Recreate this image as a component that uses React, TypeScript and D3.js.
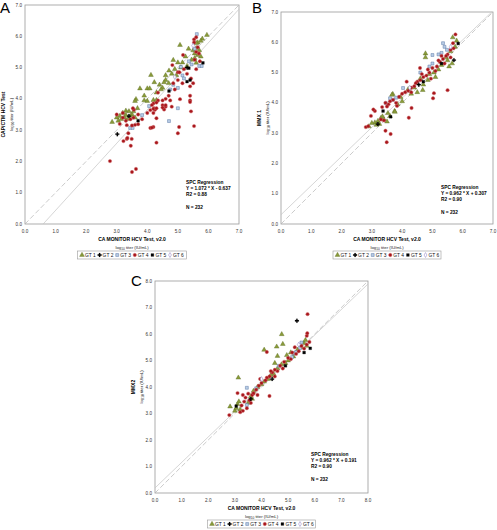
import React from 'react';
import * as d3 from 'd3';

type Pt = [number, number];

const gtLabels = ['GT 1', 'GT 2', 'GT 3', 'GT 4', 'GT 5', 'GT 6'];

// Panel A: CA MONITOR vs CAP/CTM
const aGT1: Pt[] = [[5.95,6.04],[5.8,5.92],[5.75,5.85],[5.65,5.8],[5.6,5.78],[5.07,5.72],[5.6,5.62],[5.7,5.55],[5.5,5.55],[5.55,5.45],[5.65,5.4],[5.75,5.35],[5.35,5.6],[5.55,5.3],[5.45,5.25],[5.25,5.35],[5.6,5.15],[4.85,5.24],[5.0,5.16],[5.15,5.16],[5.3,5.05],[5.1,5.0],[4.71,4.9],[4.9,4.95],[4.8,4.8],[4.95,4.75],[4.6,4.75],[4.6,4.6],[4.12,4.76],[4.23,4.53],[4.55,4.53],[4.4,4.45],[4.7,4.5],[4.5,4.35],[4.0,4.33],[4.08,4.33],[3.76,4.33],[4.45,4.3],[4.3,4.2],[3.9,4.1],[3.63,3.99],[3.9,3.95],[4.0,3.93],[4.2,3.96],[4.3,3.96],[3.6,3.93],[3.68,3.7],[3.3,3.62],[3.2,3.55],[3.4,3.6],[3.5,3.5],[3.1,3.45],[3.25,3.4],[3.35,3.35],[3.0,3.4],[2.85,3.26],[3.05,3.3],[3.45,3.45],[3.6,3.4],[3.15,3.35],[3.55,3.6],[3.3,3.48]];
const aGT2: Pt[] = [[3.02,2.87],[3.4,3.45],[5.3,5.0]];
const aGT3: Pt[] = [[5.62,6.07],[5.36,5.2],[5.45,5.1],[5.7,5.05],[5.78,5.05],[5.15,4.75],[5.2,4.65],[4.75,4.3],[4.85,4.45],[5.0,4.35],[4.06,3.77],[5.0,3.7],[3.83,3.48],[3.44,3.07],[3.52,3.07],[4.71,3.29],[5.1,5.02],[5.55,5.6]];
const aGT4: Pt[] = [[5.53,5.9],[5.53,5.8],[5.6,5.97],[5.17,5.4],[5.69,5.45],[5.72,5.2],[4.82,5.08],[5.0,4.85],[5.05,4.85],[5.43,4.65],[5.4,4.4],[5.5,4.5],[4.7,4.1],[4.6,4.0],[4.75,3.95],[4.5,3.95],[5.07,3.99],[5.4,4.1],[5.4,3.95],[5.43,3.6],[4.2,3.85],[4.35,3.95],[4.5,3.8],[4.6,3.75],[3.56,3.65],[4.2,3.55],[4.25,3.65],[4.22,3.7],[4.55,3.66],[3.38,2.9],[3.22,2.65],[3.33,2.72],[3.49,2.72],[3.46,2.5],[4.3,2.6],[5.0,2.9],[2.78,2.01],[3.63,1.76],[3.5,1.66],[5.53,3.13],[5.04,3.1],[4.1,3.07],[4.2,3.1],[4.15,3.08],[4.3,3.38],[3.83,3.35],[3.35,2.75],[3.5,3.15],[3.6,3.17],[3.7,3.19],[3.33,3.16],[3.53,3.7],[4.1,3.64],[4.2,3.68],[4.3,3.7],[4.15,3.8],[4.3,3.88],[4.5,3.72],[4.6,3.8],[4.8,3.75],[5.4,3.9],[3.2,3.4],[3.3,3.3],[3.45,3.35],[3.0,3.5],[3.1,3.2],[3.55,3.4],[3.7,3.5],[4.0,3.55],[3.2,3.55],[5.2,4.95],[5.3,4.8],[5.6,4.95],[5.0,4.6],[5.15,4.5],[4.9,4.3],[4.85,4.5],[5.6,5.5],[5.65,5.65],[5.55,5.25],[4.35,4.2]];
const aGT5: Pt[] = [[5.82,5.15],[5.36,4.98],[5.3,4.55],[5.4,4.6],[4.71,4.25],[3.7,3.3]];
const aGT6: Pt[] = [[5.5,5.7],[4.9,4.7]];

// Panel B: CA MONITOR vs MMX 1
const bGT1: Pt[] = [[5.67,6.16],[5.8,6.05],[5.75,5.85],[5.6,5.7],[4.77,5.63],[4.77,5.5],[5.5,5.4],[5.65,5.3],[5.3,5.25],[5.2,5.1],[5.05,5.0],[4.9,4.95],[5.1,4.85],[4.85,4.75],[4.6,4.8],[4.7,4.6],[4.68,4.42],[4.5,4.35],[4.3,4.3],[3.95,4.19],[4.2,4.45],[3.69,4.29],[3.66,4.26],[3.75,3.73],[3.76,3.7],[3.53,3.66],[3.6,3.56],[3.3,3.5],[3.4,3.45],[3.2,3.4],[3.1,3.35],[3.0,3.33],[3.15,3.27],[3.25,3.3],[3.5,3.38],[3.35,3.55],[2.9,3.22],[5.45,5.5],[5.55,5.2],[4.4,4.5],[4.0,4.05],[3.85,3.95]];
const bGT2: Pt[] = [[5.71,5.41],[4.55,4.6],[3.2,3.3]];
const bGT3: Pt[] = [[5.35,5.97],[5.4,5.85],[5.48,5.75],[5.3,5.65],[5.2,5.6],[5.0,5.58],[5.0,5.3],[4.9,5.2],[4.03,4.49],[3.8,4.17],[3.46,3.99],[3.7,4.1],[3.6,4.15],[4.6,5.0]];
const bGT4: Pt[] = [[5.76,6.26],[5.68,5.97],[5.7,5.8],[5.6,5.75],[5.5,5.6],[5.45,5.55],[5.6,5.5],[5.35,5.45],[5.25,5.35],[5.4,5.3],[5.15,5.2],[5.0,5.15],[5.1,5.05],[4.9,5.0],[4.8,4.9],[4.95,4.8],[4.7,4.85],[4.6,4.75],[4.59,5.15],[4.5,4.7],[4.4,4.55],[4.3,4.5],[4.15,4.7],[4.2,4.4],[4.1,4.35],[4.0,4.3],[4.3,4.35],[5.5,4.42],[5.05,4.32],[5.02,4.15],[4.31,3.83],[4.22,3.51],[3.45,3.08],[3.62,2.97],[3.49,2.7],[2.8,3.2],[2.88,3.23],[2.97,3.57],[3.1,3.73],[3.05,3.78],[3.3,3.45],[3.4,3.42],[3.34,3.86],[3.45,4.0],[3.55,3.95],[3.6,4.05],[3.7,4.1],[3.8,4.0],[3.83,3.9],[3.5,3.88],[3.9,4.2],[5.3,5.55],[5.2,5.4],[4.85,5.1],[4.65,4.95],[4.45,4.65]];
const bGT5: Pt[] = [[5.85,5.96],[3.37,3.73],[3.62,3.54],[5.3,5.3],[4.7,4.7]];
const bGT6: Pt[] = [[5.6,5.85],[4.25,4.5]];

// Panel C: CA MONITOR vs MMX2
const cGT1: Pt[] = [[4.76,5.99],[4.8,5.62],[4.57,5.52],[4.1,5.4],[4.6,5.17],[3.13,4.35],[5.6,5.66],[5.65,5.77],[5.5,5.5],[5.35,5.4],[5.2,5.15],[5.0,5.0],[4.9,4.9],[4.75,4.85],[4.6,4.7],[4.45,4.5],[4.35,4.45],[4.25,4.3],[4.1,4.2],[4.0,4.1],[3.85,4.0],[3.7,3.85],[3.6,3.65],[2.82,3.26],[3.0,3.1],[3.05,3.2],[3.1,3.35],[3.15,3.45],[3.2,3.15],[3.5,3.4],[3.65,3.55],[4.95,5.2],[5.1,5.3],[5.7,5.55],[4.5,4.9]];
const cGT2: Pt[] = [[5.33,6.5],[3.6,3.55],[4.4,4.3]];
const cGT3: Pt[] = [[5.45,5.47],[5.2,5.28],[5.15,5.13],[5.3,5.32],[3.45,3.97],[3.45,3.32],[5.5,5.68],[4.65,4.8],[3.8,3.95]];
const cGT4: Pt[] = [[5.73,6.75],[5.7,5.93],[5.72,6.03],[4.2,5.32],[5.6,5.45],[5.7,5.6],[5.8,5.7],[5.5,5.55],[5.4,5.35],[5.3,5.25],[5.15,5.3],[5.1,5.05],[5.0,5.1],[4.85,4.95],[4.7,4.8],[4.6,4.6],[4.5,4.65],[4.4,4.55],[4.3,4.4],[4.2,4.35],[4.15,4.25],[4.0,4.15],[3.9,4.05],[3.95,4.3],[3.8,3.9],[3.7,3.75],[3.85,3.7],[2.79,2.94],[4.3,3.66],[3.1,3.77],[3.3,3.7],[3.5,3.75],[3.65,3.7],[3.7,3.77],[3.6,3.4],[3.45,3.2],[3.3,3.1],[3.2,3.05],[3.4,3.6],[3.55,3.5],[3.35,3.45],[3.25,3.3],[4.5,4.4],[4.8,4.7],[5.25,5.5],[4.35,4.6]];
const cGT5: Pt[] = [[5.83,5.46],[3.05,3.28],[4.9,4.8],[5.6,5.3]];
const cGT6: Pt[] = [[5.4,5.6],[4.0,4.3]];

const regA = { slope: 1.072, intercept: -0.637, text: 'Y = 1.072 * X  - 0.637', r2: 'R2 = 0.88', n: 'N = 232' };
const regB = { slope: 0.962, intercept: 0.307, text: 'Y = 0.962 * X  + 0.307', r2: 'R2 = 0.90', n: 'N = 232' };
const regC = { slope: 0.962, intercept: 0.191, text: 'Y = 0.962 * X  + 0.191', r2: 'R2 = 0.90', n: 'N = 232' };

const FONT = 'Liberation Sans, Arial, Helvetica, sans-serif';

type Style = { type: d3.SymbolType; size: number; fill: string; stroke: string; sw: number };
const gtStyles: Style[] = [
  { type: d3.symbolTriangle, size: 10, fill: '#8a9b3a', stroke: '#55661c', sw: 0.35 },
  { type: d3.symbolCross, size: 8.5, fill: '#000', stroke: '#000', sw: 0.15 },
  { type: d3.symbolSquare, size: 8.5, fill: '#b9cde6', stroke: '#4e6e9e', sw: 0.45 },
  { type: d3.symbolCircle, size: 9, fill: '#a8161c', stroke: '#cf6a6a', sw: 0.45 },
  { type: d3.symbolSquare, size: 7.5, fill: '#000', stroke: '#000', sw: 0.3 },
  { type: d3.symbolDiamond, size: 7, fill: '#fff', stroke: '#8a7bc0', sw: 0.5 },
];
const drawOrder = [0, 2, 3, 1, 4, 5];

type PanelProps = {
  letter: string; lx: number; ly: number;
  left: number; top: number; right: number; bottom: number; max: number;
  yTitle: string; series: Pt[][]; reg: typeof regA; regX: number; regY: number;
  legendW: number;
};

function Panel(p: PanelProps) {
  const x = d3.scaleLinear().domain([0, p.max]).range([p.left, p.right]);
  const y = d3.scaleLinear().domain([0, p.max]).range([p.bottom, p.top]);
  const ticks = d3.range(0, p.max + 0.001, 1);
  const cx = (p.left + p.right) / 2;
  const cy = (p.top + p.bottom) / 2;
  const { slope, intercept } = p.reg;
  const rx0 = Math.max(0, -intercept / slope);
  const rx1 = Math.min(p.max, (p.max - intercept) / slope);
  const line = d3.line<Pt>().x(d => x(d[0])).y(d => y(d[1]));
  const legLeft = cx - p.legendW / 2;
  const legY = p.bottom + 31;
  return (
    <g fontFamily={FONT}>
      <text x={p.lx} y={p.ly} fontSize={15} fill="#000">{p.letter}</text>
      <rect x={p.left} y={p.top} width={p.right - p.left} height={p.bottom - p.top} fill="#fff" stroke="#9a9a9a" strokeWidth={0.8} />
      {ticks.map(t => (
        <g key={'t' + t}>
          <text x={p.left - 3} y={y(t) + 1.6} fontSize={4.6} textAnchor="end" fill="#333">{t.toFixed(1)}</text>
          <text x={x(t)} y={p.bottom + 8.5} fontSize={4.6} textAnchor="middle" fill="#333">{t.toFixed(1)}</text>
        </g>
      ))}
      <path d={line([[0, 0], [p.max, p.max]]) || ''} stroke="#b5b5b5" strokeWidth={0.7} strokeDasharray="5,2.5" fill="none" />
      <path d={line([[rx0, slope * rx0 + intercept], [rx1, slope * rx1 + intercept]]) || ''} stroke="#c4c4c4" strokeWidth={0.7} fill="none" />
      {drawOrder.map(gi => {
        const st = gtStyles[gi];
        const sym = d3.symbol().type(st.type).size(st.size)() || '';
        return (
          <g key={'s' + gi}>
            {p.series[gi].map((d, i) => (
              <path key={i} d={sym} transform={`translate(${x(d[0])},${y(d[1])})`} fill={st.fill} stroke={st.stroke} strokeWidth={st.sw} />
            ))}
          </g>
        );
      })}
      <g fontSize={4.8} fontWeight="bold" fill="#000">
        <text x={p.regX} y={p.regY}>SPC Regression</text>
        <text x={p.regX} y={p.regY + 6.2}>{p.reg.text}</text>
        <text x={p.regX} y={p.regY + 12.4}>{p.reg.r2}</text>
        <text x={p.regX} y={p.regY + 25}>{p.reg.n}</text>
      </g>
      <text x={cx} y={p.bottom + 17} fontSize={5} fontWeight="bold" textAnchor="middle">CA MONITOR HCV Test, v2.0</text>
      <text x={cx} y={p.bottom + 25} fontSize={4.3} textAnchor="middle" fill="#222">log<tspan fontSize={3.2} dy={1}>10</tspan><tspan dy={-1}> titer (IU/mL)</tspan></text>
      <g transform={`translate(${p.left - 20},${cy}) rotate(-90)`}>
        <text x={0} y={0} fontSize={5} fontWeight="bold" textAnchor="middle">{p.yTitle}</text>
        <text x={0} y={8} fontSize={4.3} textAnchor="middle" fill="#222">log<tspan fontSize={3.2} dy={1}>10</tspan><tspan dy={-1}> titer (IU/mL)</tspan></text>
      </g>
      <rect x={legLeft} y={legY - 4} width={p.legendW} height={8} fill="#fff" stroke="#9a9a9a" strokeWidth={0.6} />
      {gtLabels.map((lab, i) => {
        const st = gtStyles[i];
        const sym = d3.symbol().type(st.type).size(st.size)() || '';
        const ix = legLeft + 4.5 + i * 17.6;
        return (
          <g key={'l' + i}>
            <path d={sym} transform={`translate(${ix},${legY})`} fill={st.fill} stroke={st.stroke} strokeWidth={st.sw} />
            <text x={ix + 3} y={legY + 1.7} fontSize={4.9} fill="#111">{lab}</text>
          </g>
        );
      })}
    </g>
  );
}

export default function App() {
  return (
    <svg width={497} height={530} style={{ position: 'absolute', left: 0, top: 0, background: '#fff' }}>
      <rect x={0} y={0} width={497} height={530} fill="#fff" />
      <Panel letter="A" lx={0} ly={13} left={25} top={5} right={239} bottom={224} max={7}
        yTitle="CAP/CTM HCV Test" series={[aGT1, aGT2, aGT3, aGT4, aGT5, aGT6]} reg={regA} regX={186} regY={184} legendW={109} />
      <Panel letter="B" lx={252} ly={13} left={281} top={12} right={493} bottom={224} max={7}
        yTitle="MMX 1" series={[bGT1, bGT2, bGT3, bGT4, bGT5, bGT6]} reg={regB} regX={441} regY={189} legendW={108} />
      <Panel letter="C" lx={131} ly={286} left={155} top={281} right={368} bottom={493} max={8}
        yTitle="MMX2" series={[cGT1, cGT2, cGT3, cGT4, cGT5, cGT6]} reg={regC} regX={311} regY={456} legendW={108} />
    </svg>
  );
}
